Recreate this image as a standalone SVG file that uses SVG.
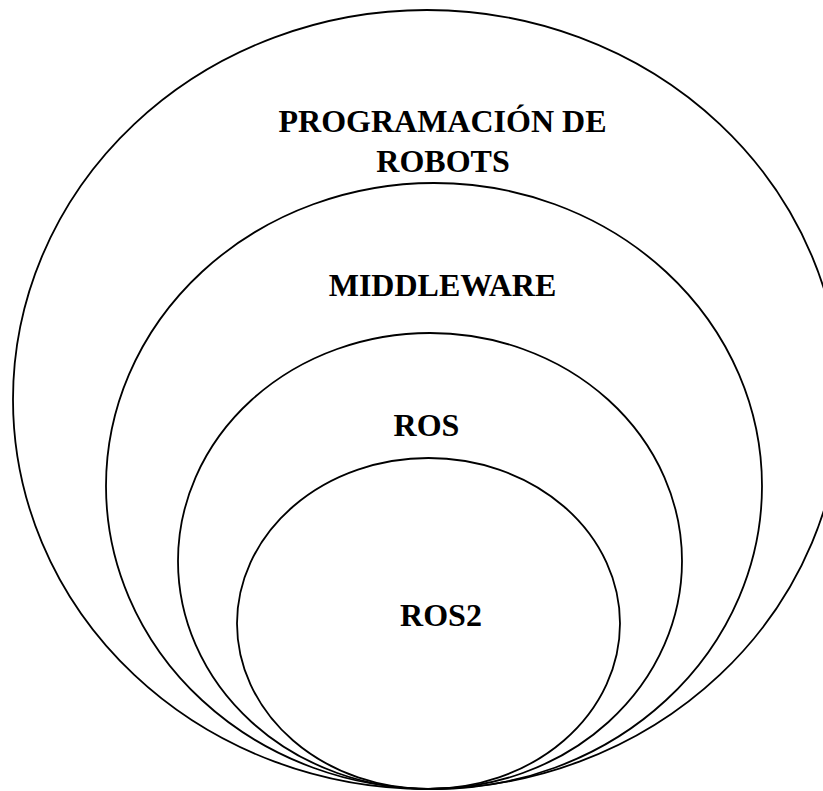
<svg xmlns="http://www.w3.org/2000/svg" width="823" height="791" viewBox="0 0 823 791">
<style>
.e{fill:none;stroke:#000;stroke-width:1.8}
.t{font-family:"Liberation Serif","Times New Roman",serif;font-weight:bold;font-size:32px;fill:#000;text-anchor:middle}
</style>
<rect width="823" height="791" fill="#fff"/>
<g id="programacion">
<ellipse class="e" cx="427" cy="399.5" rx="414" ry="389.5"/>
<text class="t" x="442.5" y="132">PROGRAMACIÓN DE</text>
<text class="t" x="443" y="172">ROBOTS</text>
</g>
<g id="middleware">
<ellipse class="e" cx="434" cy="486" rx="328" ry="303"/>
<text class="t" x="442.5" y="296">MIDDLEWARE</text>
</g>
<g id="ros">
<ellipse class="e" cx="430" cy="561" rx="252" ry="228"/>
<text class="t" x="426.5" y="436">ROS</text>
</g>
<g id="ros2">
<ellipse class="e" cx="428.5" cy="623.5" rx="191.5" ry="165.5"/>
<text class="t" x="441" y="626">ROS2</text>
</g>
<g id="connectors"/>
</svg>
